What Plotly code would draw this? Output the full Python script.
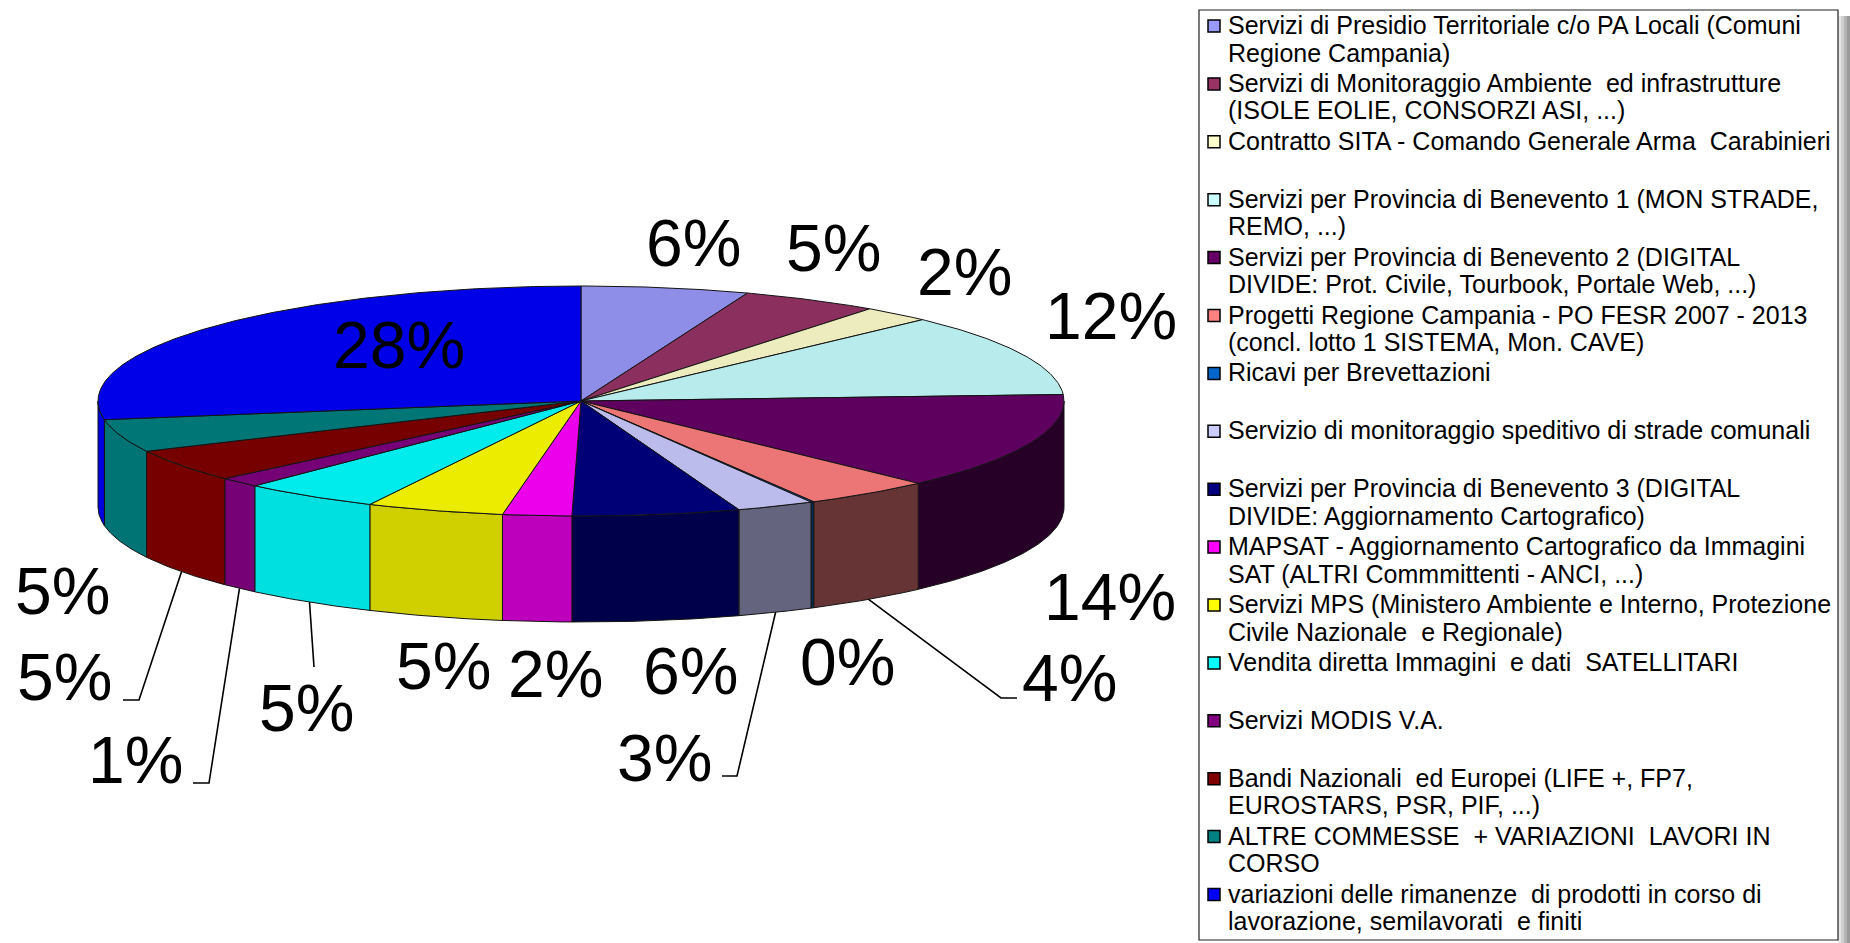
import numpy as np
import plotly.graph_objects as go

# ---- data -------------------------------------------------------------
categories = [
    "Servizi di Presidio Territoriale c/o PA Locali (Comuni<br>Regione Campania)",
    "Servizi di Monitoraggio Ambiente  ed infrastrutture<br>(ISOLE EOLIE, CONSORZI ASI, ...)",
    "Contratto SITA - Comando Generale Arma  Carabinieri",
    "Servizi per Provincia di Benevento 1 (MON STRADE,<br>REMO, ...)",
    "Servizi per Provincia di Benevento 2 (DIGITAL<br>DIVIDE: Prot. Civile, Tourbook, Portale Web, ...)",
    "Progetti Regione Campania - PO FESR 2007 - 2013<br>(concl. lotto 1 SISTEMA, Mon. CAVE)",
    "Ricavi per Brevettazioni",
    "Servizio di monitoraggio speditivo di strade comunali",
    "Servizi per Provincia di Benevento 3 (DIGITAL<br>DIVIDE: Aggiornamento Cartografico)",
    "MAPSAT - Aggiornamento Cartografico da Immagini<br>SAT (ALTRI Commmittenti - ANCI, ...)",
    "Servizi MPS (Ministero Ambiente e Interno, Protezione<br>Civile Nazionale  e Regionale)",
    "Vendita diretta Immagini  e dati  SATELLITARI",
    "Servizi MODIS V.A.",
    "Bandi Nazionali  ed Europei (LIFE +, FP7,<br>EUROSTARS, PSR, PIF, ...)",
    "ALTRE COMMESSE  + VARIAZIONI  LAVORI IN<br>CORSO",
    "variazioni delle rimanenze  di prodotti in corso di<br>lavorazione, semilavorati  e finiti",
]
values = [5.6, 4.6, 2.3, 11.6, 13.6, 4.3, 0.1, 2.6, 5.6, 2.3, 4.6, 4.6, 1.4, 4.6, 4.6, 27.6]

# ---- styles -----------------------------------------------------------
legend_colors = ["#9999FF", "#993366", "#FFFFCC", "#CCFFFF", "#660066", "#FF8080",
                 "#0066CC", "#CCCCFF", "#000080", "#FF00FF", "#FFFF00", "#00FFFF",
                 "#800080", "#800000", "#008080", "#0000FF"]
top_colors = ["#8E8EE8", "#8B2F5E", "#ECECBE", "#B8ECEC", "#5E005E", "#EC7676",
              "#005EBE", "#BCBCEC", "#000076", "#EC00EC", "#ECEC00", "#00ECEC",
              "#760076", "#760000", "#007676", "#0000E8"]
side_colors = ["#6A6AAE", "#5E2040", "#B0B090", "#8AB0B0", "#270027", "#663434",
               "#00305A", "#64647E", "#00004A", "#BC00BC", "#D0D000", "#00E0E0",
               "#760076", "#760000", "#007474", "#0000E0"]

# pie geometry (pixel space of the page)
CX, CY, RX, RY, DEPTH = 581, 401, 483, 115, 106
W, H = 1850, 943
LABEL_FONT = dict(family="Liberation Sans, Arial, sans-serif", size=66, color="black")
LEGEND_FONT = dict(family="Liberation Sans, Arial, sans-serif", size=25, color="black")

# percentage label centres and optional leader polylines (elbow, end)
label_pos = [(693, 243), (833, 248), (964, 272), (1111, 316), (1110, 597), (1069, 678),
             (847, 662), (664, 758), (690, 671), (555, 674), (443, 666), (306, 708),
             (135, 760), (64, 677), (62, 591), (399, 345)]
leaders = {5: [(1001, 698), (1017, 698)],
           7: [(737, 776), (722, 776)],
           11: [(314, 667)],
           12: [(209, 783), (193, 783)],
           13: [(139, 700), (123, 700)]}


def ellipse_pt(theta_deg, drop=0.0):
    t = np.radians(theta_deg)
    return CX + RX * np.sin(t), CY - RY * np.cos(t) + drop


fig = go.Figure()

total = sum(values)
bounds = np.concatenate([[0.0], np.cumsum(values) / total * 360.0])

# side walls of the front half (drawn first, tops go over them)
for i in range(len(values)):
    a0, a1 = max(bounds[i], 90.0), min(bounds[i + 1], 270.0)
    if a1 <= a0:
        continue
    th = np.linspace(a0, a1, max(3, int((a1 - a0) * 2) + 2))
    xt, yt = ellipse_pt(th)
    xb, yb = ellipse_pt(th[::-1], DEPTH)
    xs = np.concatenate([xt, xb, xt[:1]])
    ys = np.concatenate([yt, yb, yt[:1]])
    fig.add_trace(go.Scatter(x=xs, y=ys, mode="lines", fill="toself",
                             fillcolor=side_colors[i],
                             line=dict(color="#141414", width=1),
                             hoverinfo="skip", showlegend=False))

# top faces
for i in range(len(values)):
    a0, a1 = bounds[i], bounds[i + 1]
    th = np.linspace(a0, a1, max(3, int((a1 - a0) * 2) + 2))
    xt, yt = ellipse_pt(th)
    xs = np.concatenate([[CX], xt, [CX]])
    ys = np.concatenate([[CY], yt, [CY]])
    fig.add_trace(go.Scatter(x=xs, y=ys, mode="lines", fill="toself",
                             fillcolor=top_colors[i],
                             line=dict(color="#141414", width=1),
                             hoverinfo="skip", showlegend=False))

annotations = []
# percentage labels and leader lines
for i, v in enumerate(values):
    pct = round(v / total * 100)
    lx, ly = label_pos[i]
    annotations.append(dict(x=lx, y=ly, xref="x", yref="y", text=f"{pct}%",
                            showarrow=False, font=LABEL_FONT,
                            xanchor="center", yanchor="middle"))
    if i in leaders:
        mid = (bounds[i] + bounds[i + 1]) / 2
        sx, sy = ellipse_pt(mid, DEPTH)
        px = [sx] + [p[0] for p in leaders[i]]
        py = [sy] + [p[1] for p in leaders[i]]
        fig.add_trace(go.Scatter(x=px, y=py, mode="lines",
                                 line=dict(color="black", width=1.6),
                                 hoverinfo="skip", showlegend=False))

# legend box with a soft shadow on its right side
shapes = []
BOX_L, BOX_T, BOX_R, BOX_B = 1199, 10, 1838, 940
for k, col in enumerate(["#e6e6e6", "#cfcfcf", "#b4b4b4", "#9a9a9a"]):
    shapes.append(dict(type="rect", xref="x", yref="y",
                       x0=BOX_R + k * 3, x1=BOX_R + k * 3 + 3, y0=BOX_T + 6, y1=H,
                       fillcolor=col, line=dict(width=0), layer="below"))
shapes.append(dict(type="rect", xref="x", yref="y", x0=BOX_L, x1=BOX_R,
                   y0=BOX_T, y1=BOX_B, fillcolor="white",
                   line=dict(color="#202020", width=1.2), layer="below"))

ROW0, ROW_STEP, LINE_STEP = 25, 57.9, 27.5
for i, lab in enumerate(categories):
    y0 = ROW0 + i * ROW_STEP
    shapes.append(dict(type="rect", xref="x", yref="y",
                       x0=1208, x1=1220, y0=y0 - 5, y1=y0 + 7,
                       fillcolor=legend_colors[i],
                       line=dict(color="black", width=1.5)))
    for j, line in enumerate(lab.split("<br>")):
        annotations.append(dict(x=1226, y=y0 + j * LINE_STEP, xref="x", yref="y",
                                text=line, showarrow=False, font=LEGEND_FONT,
                                xanchor="left", yanchor="middle"))

fig.update_layout(
    width=W, height=H,
    margin=dict(l=0, r=0, t=0, b=0),
    paper_bgcolor="white", plot_bgcolor="white",
    xaxis=dict(range=[0, W], visible=False, fixedrange=True),
    yaxis=dict(range=[H, 0], visible=False, fixedrange=True),
    shapes=shapes, annotations=annotations,
    showlegend=False,
)

fig.write_html("out.html", config={"displayModeBar": False})
